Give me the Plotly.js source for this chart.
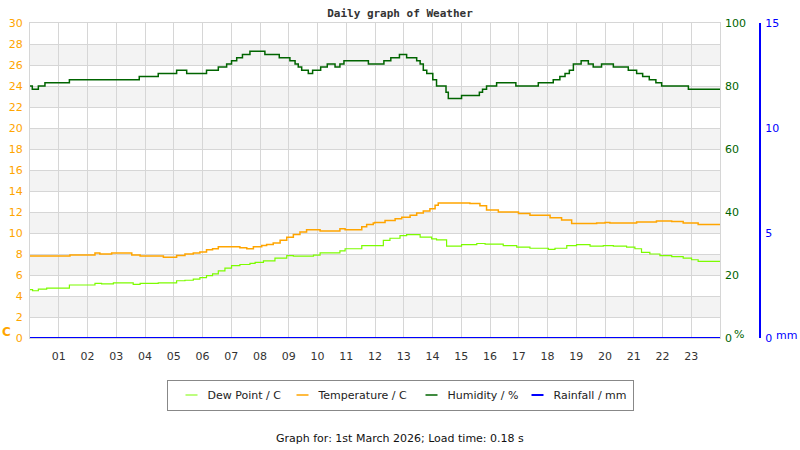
<!DOCTYPE html>
<html>
<head>
<meta charset="utf-8">
<script src="https://cdn.plot.ly/plotly-3.0.1.min.js"></script>
<style>
  html, body { margin: 0; padding: 0; background: #fff; }
  #chart { width: 800px; height: 450px; }
</style>
</head>
<body>
<div id="chart"></div>
<script>
// Readings for the day, hours since midnight -> value (step changes)
const dewTimes = [0, 0.09, 0.29, 0.58, 1.37, 2.26, 2.49, 2.90, 3.59, 3.83, 4.46, 5.10, 5.39, 5.68, 5.91, 6.14, 6.35, 6.55, 6.78, 7.01, 7.30, 7.65, 7.83, 8.12, 8.52, 8.93, 9.16, 9.86, 10.09, 10.78, 10.96, 11.54, 12.29, 12.52, 12.87, 13.10, 13.57, 13.97, 14.14, 14.49, 15.01, 15.54, 15.83, 16.46, 16.93, 17.39, 18.03, 18.26, 18.67, 19.01, 19.48, 19.94, 20.29, 20.75, 21.04, 21.27, 21.56, 21.91, 22.32, 22.72, 23.01, 23.24, 24];
const dewPoint = [4.6, 4.5, 4.65, 4.75, 5.05, 5.2, 5.15, 5.25, 5.1, 5.2, 5.25, 5.45, 5.5, 5.6, 5.75, 5.95, 6.1, 6.4, 6.65, 6.9, 7.0, 7.1, 7.2, 7.35, 7.6, 7.85, 7.8, 7.9, 8.1, 8.3, 8.5, 8.8, 9.3, 9.5, 9.75, 9.85, 9.6, 9.45, 9.35, 8.75, 8.9, 9.0, 8.95, 8.8, 8.65, 8.55, 8.45, 8.55, 8.8, 8.9, 8.75, 8.8, 8.75, 8.65, 8.5, 8.15, 8.0, 7.85, 7.75, 7.6, 7.45, 7.3, 7.3];

const tempTimes = [0, 1.39, 2.26, 2.43, 2.84, 3.54, 3.83, 4.64, 5.10, 5.39, 5.68, 5.91, 6.14, 6.35, 6.55, 7.30, 7.54, 7.77, 8.06, 8.23, 8.46, 8.70, 8.93, 9.16, 9.39, 9.62, 10.09, 10.78, 10.96, 11.54, 11.71, 11.94, 11.99, 12.35, 12.70, 12.93, 13.22, 13.45, 13.68, 13.91, 14.09, 14.20, 15.30, 15.65, 15.88, 16.29, 16.99, 17.39, 18.09, 18.49, 18.84, 19.71, 20.0, 20.17, 21.10, 21.79, 22.32, 22.72, 23.24, 24];
const temperature = [7.8, 7.9, 8.1, 8.0, 8.1, 7.9, 7.8, 7.7, 7.85, 8.0, 8.1, 8.2, 8.4, 8.5, 8.7, 8.6, 8.5, 8.7, 8.8, 8.9, 9.05, 9.3, 9.6, 9.85, 10.1, 10.3, 10.2, 10.4, 10.3, 10.6, 10.8, 10.95, 11.0, 11.2, 11.35, 11.5, 11.7, 11.9, 12.1, 12.3, 12.65, 12.85, 12.8, 12.6, 12.2, 12.0, 11.85, 11.7, 11.45, 11.25, 10.9, 10.95, 11.0, 10.95, 11.05, 11.15, 11.1, 10.95, 10.8, 10.8];

const humTimes = [0, 0.08, 0.29, 0.52, 1.37, 3.80, 4.46, 5.10, 5.45, 6.14, 6.55, 6.84, 7.01, 7.19, 7.39, 7.65, 8.17, 8.67, 9.04, 9.22, 9.33, 9.45, 9.68, 9.83, 10.11, 10.34, 10.61, 10.78, 10.92, 11.77, 12.31, 12.55, 12.85, 13.10, 13.45, 13.57, 13.68, 13.80, 14.01, 14.14, 14.47, 14.55, 15.01, 15.63, 15.74, 15.88, 16.23, 16.90, 17.68, 18.20, 18.43, 18.61, 18.76, 18.90, 19.17, 19.42, 19.59, 19.88, 20.29, 20.81, 21.10, 21.31, 21.54, 21.77, 21.97, 22.90, 24];
const humidity = [80, 79, 80, 81, 82, 83, 84, 85, 84, 85, 86, 87, 88, 89, 90, 91, 90, 89, 88, 87, 86, 85, 84, 85, 86, 87, 86, 87, 88, 87, 88, 89, 90, 89, 88, 87, 85, 84, 82, 80, 78, 76, 77, 78, 79, 80, 81, 80, 81, 82, 83, 84, 85, 87, 88, 87, 86, 87, 86, 85, 84, 83, 82, 81, 80, 79, 79];

const rainTimes = [0, 24];
const rainfall = [0, 0];

const hourTicks = [1, 2, 3, 4, 5, 6, 7, 8, 9, 10, 11, 12, 13, 14, 15, 16, 17, 18, 19, 20, 21, 22, 23];
const hourLabels = hourTicks.map((h) => String(h).padStart(2, "0"));

const FONT = "DejaVu Sans, Verdana, sans-serif";
const ORANGE = "#ffa500";
const DEW = "#7cfc00";
const GREEN = "#006400";
const BLUE = "#0000ff";
const GRID = "#d6d6d6";

// plot area is 30..720 px, rain axis sits out at 760 px
const plotW = 740;
const xEnd = 690 / plotW;
const px = (p) => (p - 30) / plotW;
const py = (p) => (338 - p) / 315;

// alternating grey bands on the temperature scale
const bands = [];
for (let v = 2; v < 30; v += 4) {
  bands.push({
    type: "rect",
    xref: "paper",
    yref: "y",
    x0: 0,
    x1: xEnd,
    y0: v,
    y1: v + 2,
    fillcolor: "#f3f3f3",
    line: { width: 0 },
    layer: "below",
  });
}

const traces = [
  {
    x: dewTimes,
    y: dewPoint,
    name: "Dew Point / C",
    type: "scatter",
    mode: "lines",
    line: { color: DEW, width: 1.2, shape: "hv" },
    yaxis: "y",
    legendwidth: 66,
  },
  {
    x: tempTimes,
    y: temperature,
    name: "Temperature / C",
    type: "scatter",
    mode: "lines",
    line: { color: ORANGE, width: 1.5, shape: "hv" },
    yaxis: "y",
    legendwidth: 84,
  },
  {
    x: humTimes,
    y: humidity,
    name: "Humidity / %",
    type: "scatter",
    mode: "lines",
    line: { color: GREEN, width: 1.5, shape: "hv" },
    yaxis: "y2",
    legendwidth: 61,
  },
  {
    x: rainTimes,
    y: rainfall,
    name: "Rainfall / mm",
    type: "scatter",
    mode: "lines",
    line: { color: BLUE, width: 2.2 },
    yaxis: "y3",
    legendwidth: 74,
  },
];

const layout = {
  width: 800,
  height: 450,
  margin: { l: 30, r: 30, t: 23, b: 112 },
  paper_bgcolor: "#ffffff",
  plot_bgcolor: "#ffffff",
  font: { family: FONT, size: 11, color: "#333" },
  title: {
    text: "<b>Daily graph of Weather</b>",
    font: { family: "DejaVu Sans Mono, monospace", size: 11, color: "#333" },
    xref: "container",
    x: 0.5,
    xanchor: "center",
    yref: "container",
    y: 1 - 13 / 450,
    yanchor: "middle",
  },
  xaxis: {
    domain: [0, xEnd],
    range: [0, 24],
    tickvals: hourTicks,
    ticktext: hourLabels,
    tickfont: { family: FONT, size: 11, color: "#333" },
    showgrid: true,
    gridcolor: GRID,
    showline: true,
    linecolor: GRID,
    mirror: true,
    zeroline: false,
    ticks: "",
    ticklabelstandoff: 8,
  },
  yaxis: {
    range: [0, 30],
    dtick: 2,
    tickfont: { family: FONT, size: 11, color: ORANGE },
    showgrid: true,
    gridcolor: GRID,
    showline: true,
    linecolor: GRID,
    mirror: true,
    zeroline: false,
    ticks: "",
    ticklabelstandoff: 4,
  },
  yaxis2: {
    overlaying: "y",
    side: "right",
    anchor: "x",
    range: [0, 100],
    dtick: 20,
    tickfont: { family: FONT, size: 11, color: GREEN },
    showgrid: false,
    zeroline: false,
    showline: false,
    ticks: "",
    ticklabelstandoff: 4,
  },
  yaxis3: {
    overlaying: "y",
    side: "right",
    anchor: "free",
    position: px(760),
    range: [0, 15],
    tickvals: [0, 5, 10, 15],
    tickfont: { family: FONT, size: 11, color: BLUE },
    showgrid: false,
    zeroline: false,
    showline: true,
    linecolor: BLUE,
    linewidth: 2,
    ticks: "",
    ticklabelstandoff: 2,
  },
  showlegend: true,
  legend: {
    orientation: "h",
    xref: "container",
    x: 0.5,
    xanchor: "center",
    yref: "container",
    y: 1 - 395 / 450,
    yanchor: "middle",
    bordercolor: "#888",
    borderwidth: 1,
    bgcolor: "#fff",
    itemwidth: 30,
    font: { family: FONT, size: 11, color: "#222" },
  },
  shapes: bands,
  annotations: [
    {
      text: "<b>C</b>",
      xref: "paper",
      yref: "paper",
      x: px(6),
      y: py(332),
      xanchor: "center",
      yanchor: "middle",
      showarrow: false,
      font: { family: FONT, size: 12, color: ORANGE },
    },
    {
      text: "%",
      xref: "paper",
      yref: "paper",
      x: px(739),
      y: py(334),
      xanchor: "center",
      yanchor: "middle",
      showarrow: false,
      font: { family: FONT, size: 11, color: GREEN },
    },
    {
      text: "mm",
      xref: "paper",
      yref: "paper",
      x: px(786),
      y: py(335),
      xanchor: "center",
      yanchor: "middle",
      showarrow: false,
      font: { family: FONT, size: 11, color: BLUE },
    },
    {
      text: "Graph for: 1st March 2026; Load time: 0.18 s",
      xref: "paper",
      yref: "paper",
      x: px(400),
      y: py(438),
      xanchor: "center",
      yanchor: "middle",
      showarrow: false,
      font: { family: FONT, size: 11, color: "#111" },
    },
  ],
};

const config = { staticPlot: true, displayModeBar: false };

Plotly.newPlot("chart", traces, layout, config).then((gd) => {
  // the legend swatches in the original are short dashes, not 30px lines
  gd.querySelectorAll(".legend .legendlines path").forEach((p) => {
    p.setAttribute("d", "M18,0h12");
  });
});
</script>
</body>
</html>
